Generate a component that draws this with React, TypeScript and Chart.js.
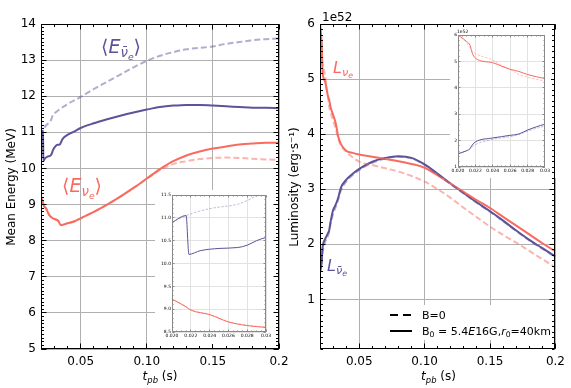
import React, { useEffect, useRef } from "react";
import { Chart, registerables } from "chart.js";
Chart.register(...registerables);

const FONT = "'DejaVu Sans', sans-serif";
const RED = "#f96a5f";
const RED_L = "rgba(249,106,95,0.5)";
const PUR = "#5d5399";
const PUR_L = "rgba(93,83,153,0.48)";

// ---------- Data: mean energies (MeV) ----------
const T_EBAR_B = [0.02, 0.0215, 0.0218, 0.023, 0.025, 0.027, 0.028, 0.029, 0.03, 0.032, 0.034, 0.0364, 0.04, 0.045, 0.05, 0.06, 0.07, 0.08, 0.09, 0.10, 0.11, 0.12, 0.13, 0.14, 0.15, 0.16, 0.17, 0.18, 0.19, 0.2];
const E_EBAR_B = [10.9, 11.05, 10.2, 10.28, 10.33, 10.35, 10.4, 10.5, 10.57, 10.65, 10.66, 10.82, 10.93, 11.02, 11.12, 11.25, 11.36, 11.46, 11.55, 11.63, 11.7, 11.74, 11.76, 11.76, 11.74, 11.72, 11.7, 11.68, 11.68, 11.67];
const T_EBAR_0 = [0.02, 0.0215, 0.024, 0.027, 0.028, 0.029, 0.03, 0.035, 0.04, 0.05, 0.06, 0.07, 0.08, 0.09, 0.10, 0.11, 0.12, 0.13, 0.14, 0.15, 0.16, 0.17, 0.18, 0.19, 0.2];
const E_EBAR_0 = [10.9, 11.05, 11.2, 11.3, 11.38, 11.48, 11.52, 11.66, 11.78, 11.98, 12.2, 12.4, 12.6, 12.8, 12.98, 13.12, 13.22, 13.3, 13.34, 13.38, 13.45, 13.5, 13.55, 13.58, 13.6];
const T_E = [0.02, 0.0215, 0.022, 0.024, 0.026, 0.028, 0.03, 0.033, 0.035, 0.04, 0.045, 0.05, 0.06, 0.07, 0.08, 0.09, 0.10, 0.11, 0.12, 0.13, 0.14, 0.15, 0.16, 0.17, 0.18, 0.19, 0.2];
const E_E_B = [9.22, 9.05, 8.98, 8.88, 8.72, 8.64, 8.6, 8.55, 8.43, 8.48, 8.53, 8.62, 8.8, 9.0, 9.22, 9.46, 9.72, 9.98, 10.2, 10.36, 10.47, 10.55, 10.61, 10.66, 10.69, 10.71, 10.71];
const E_E_0 = [9.22, 9.06, 8.99, 8.89, 8.73, 8.65, 8.61, 8.55, 8.44, 8.48, 8.53, 8.62, 8.8, 9.0, 9.22, 9.46, 9.71, 9.95, 10.12, 10.2, 10.26, 10.29, 10.3, 10.29, 10.27, 10.25, 10.24];

// ---------- Data: luminosities (1e52 erg/s) ----------
const T_L = [0.02, 0.021, 0.0214, 0.0216, 0.022, 0.024, 0.025, 0.026, 0.027, 0.028, 0.03, 0.032, 0.034, 0.036, 0.04, 0.045, 0.05, 0.06, 0.07, 0.08, 0.09, 0.10, 0.11, 0.12, 0.13, 0.14, 0.15, 0.16, 0.17, 0.18, 0.19, 0.2];
const L_E_B = [6.0, 5.75, 5.6, 5.35, 5.12, 4.95, 4.82, 4.7, 4.62, 4.5, 4.35, 4.2, 3.95, 3.82, 3.7, 3.66, 3.63, 3.59, 3.55, 3.51, 3.46, 3.39, 3.25, 3.1, 2.95, 2.8, 2.66, 2.5, 2.34, 2.18, 2.02, 1.87];
const L_E_0 = [6.0, 5.7, 5.5, 5.4, 5.3, 5.05, 4.85, 4.7, 4.5, 4.4, 4.25, 4.1, 3.92, 3.8, 3.68, 3.58, 3.5, 3.44, 3.38, 3.32, 3.24, 3.14, 3.0, 2.84, 2.66, 2.49, 2.32, 2.17, 2.03, 1.88, 1.73, 1.58];
const L_EBAR_B = [1.5, 1.62, 1.7, 1.82, 1.95, 2.1, 2.15, 2.2, 2.25, 2.4, 2.62, 2.72, 2.85, 3.03, 3.17, 3.28, 3.37, 3.5, 3.57, 3.6, 3.57, 3.45, 3.28, 3.1, 2.93, 2.76, 2.6, 2.43, 2.25, 2.08, 1.93, 1.78];
const L_EBAR_0 = [1.5, 1.62, 1.7, 1.76, 1.85, 2.05, 2.1, 2.15, 2.23, 2.36, 2.55, 2.68, 2.82, 2.98, 3.14, 3.26, 3.35, 3.48, 3.56, 3.59, 3.56, 3.44, 3.27, 3.09, 2.92, 2.75, 2.59, 2.42, 2.24, 2.07, 1.92, 1.77];

// ---------- Tick labels ----------
const X_TICKS = [0.05, 0.1, 0.15, 0.2];
const E_TICKS = [5, 6, 7, 8, 9, 10, 11, 12, 13, 14];
const L_TICKS = [1, 2, 3, 4, 5, 6];
const XI_TICKS = [0.02, 0.022, 0.024, 0.026, 0.028, 0.03];
const EI_TICKS = [8.5, 9, 9.5, 10, 10.5, 11, 11.5];
const LI_TICKS = [1, 2, 3, 4, 5, 6];

type Series = { t: number[]; v: number[]; color: string; dashed: boolean };
type Cfg = {
  w: number; h: number; padTop: number; padRight: number; yAxisW: number; xAxisH: number;
  xMin: number; xMax: number; xTicks: number[]; xFmt: (v: number) => string; xMinor: number;
  yMin: number; yMax: number; yTicks: number[]; yFmt: (v: number) => string; yMinor: number;
  fontSize: number; xPad: number; yPad: number;
  gridColor: string; frameColor: string; majorLen: number; minorLen: number;
  bg?: string; masks?: number[][];
  lw: number; dlw: number; dash: number[];
  series: Series[];
};

function steps(a: number, b: number, s: number) {
  const out: number[] = [];
  const n = Math.round((b - a) / s);
  for (let i = 0; i <= n; i++) out.push(a + i * s);
  return out;
}

function buildChart(canvas: HTMLCanvasElement, c: Cfg) {
  const framePlugin = {
    id: "frame",
    beforeDraw(chart: any) {
      if (!c.bg) return;
      const ctx = chart.ctx;
      ctx.save();
      ctx.fillStyle = c.bg;
      ctx.fillRect(0, 0, chart.width, chart.height);
      ctx.restore();
    },
    beforeDatasetsDraw(chart: any) {
      if (!c.masks) return;
      const ctx = chart.ctx;
      ctx.save();
      ctx.fillStyle = "#fff";
      for (const m of c.masks) ctx.fillRect(m[0], m[1], m[2] - m[0], m[3] - m[1]);
      ctx.restore();
    },
    afterDraw(chart: any) {
      const ctx = chart.ctx;
      const a = chart.chartArea;
      const xs = chart.scales.x;
      const ys = chart.scales.y;
      const L = Math.round(a.left) + 0.5;
      const R = Math.round(a.right) - 0.5;
      const T = Math.round(a.top) + 0.5;
      const B = Math.round(a.bottom) - 0.5;
      ctx.save();
      ctx.strokeStyle = c.frameColor;
      ctx.lineWidth = 1;
      ctx.beginPath();
      const xMaj = c.xTicks;
      const xMin = steps(c.xMin, c.xMax, c.xMinor);
      const yMaj = c.yTicks;
      const yMin = steps(Math.ceil(c.yMin / c.yMinor - 1e-6) * c.yMinor, c.yMax, c.yMinor);
      const xt = (v: number, len: number) => {
        const p = Math.floor(xs.getPixelForValue(v)) + 0.5;
        if (p < L - 1 || p > R + 1) return;
        ctx.moveTo(p, B); ctx.lineTo(p, B - len);
        ctx.moveTo(p, T); ctx.lineTo(p, T + len);
      };
      const yt = (v: number, len: number) => {
        const p = Math.floor(ys.getPixelForValue(v)) + 0.5;
        if (p < T - 1 || p > B + 1) return;
        ctx.moveTo(L, p); ctx.lineTo(L + len, p);
        ctx.moveTo(R, p); ctx.lineTo(R - len, p);
      };
      xMin.forEach((v) => xt(v, c.minorLen));
      xMaj.forEach((v) => xt(v, c.majorLen));
      yMin.forEach((v) => yt(v, c.minorLen));
      yMaj.forEach((v) => yt(v, c.majorLen));
      ctx.stroke();
      ctx.strokeRect(L, T, R - L, B - T);
      ctx.restore();
    },
  };

  return new Chart(canvas, {
    type: "line",
    data: {
      datasets: c.series.map((s) => ({
        data: s.t.map((x, i) => ({ x, y: s.v[i] })),
        borderColor: s.color,
        borderWidth: s.dashed ? c.dlw : c.lw,
        borderDash: s.dashed ? c.dash : [],
        pointRadius: 0,
        fill: false,
        tension: 0.3,
        cubicInterpolationMode: "monotone",
      })),
    } as any,
    options: {
      responsive: false,
      animation: false,
      devicePixelRatio: 1,
      events: [],
      layout: { padding: { top: c.padTop, right: c.padRight, left: 0, bottom: 0 } },
      plugins: { legend: { display: false }, tooltip: { enabled: false } },
      scales: {
        x: {
          type: "linear",
          min: c.xMin,
          max: c.xMax,
          afterBuildTicks: (s: any) => { s.ticks = c.xTicks.map((v) => ({ value: v })); },
          afterFit: (s: any) => { s.height = c.xAxisH; },
          ticks: {
            callback: (v: any) => c.xFmt(Number(v)),
            font: { family: FONT, size: c.fontSize },
            color: "#000",
            padding: c.xPad,
            maxRotation: 0,
            minRotation: 0,
            autoSkip: false,
          },
          grid: { color: c.gridColor, lineWidth: 1, drawTicks: false },
          border: { display: false },
        },
        y: {
          type: "linear",
          min: c.yMin,
          max: c.yMax,
          afterBuildTicks: (s: any) => { s.ticks = c.yTicks.map((v) => ({ value: v })); },
          afterFit: (s: any) => { s.width = c.yAxisW; },
          ticks: {
            callback: (v: any) => c.yFmt(Number(v)),
            font: { family: FONT, size: c.fontSize },
            color: "#000",
            padding: c.yPad,
            autoSkip: false,
          },
          grid: { color: c.gridColor, lineWidth: 1, drawTicks: false },
          border: { display: false },
        },
      },
    } as any,
    plugins: [framePlugin as any],
  });
}

function Panel({ cfg, left, top }: { cfg: Cfg; left: number; top: number }) {
  const ref = useRef<HTMLCanvasElement>(null);
  useEffect(() => {
    const ch = buildChart(ref.current as HTMLCanvasElement, cfg);
    return () => ch.destroy();
  }, []);
  return (
    <canvas
      ref={ref}
      width={cfg.w}
      height={cfg.h}
      style={{ position: "absolute", left, top, width: cfg.w, height: cfg.h }}
    />
  );
}

const mainX = (v: number) => (Math.abs(v - 0.2) < 1e-9 ? "0.2" : v.toFixed(2));
const insetX = (v: number) => (Math.abs(v - 0.03) < 1e-9 ? "0.03" : v.toFixed(3));

const energySeries: Series[] = [
  { t: T_EBAR_0, v: E_EBAR_0, color: PUR_L, dashed: true },
  { t: T_E, v: E_E_0, color: RED_L, dashed: true },
  { t: T_E, v: E_E_B, color: RED, dashed: false },
  { t: T_EBAR_B, v: E_EBAR_B, color: PUR, dashed: false },
];
const lumSeries: Series[] = [
  { t: T_L, v: L_EBAR_0, color: PUR_L, dashed: true },
  { t: T_L, v: L_E_0, color: RED_L, dashed: true },
  { t: T_L, v: L_E_B, color: RED, dashed: false },
  { t: T_L, v: L_EBAR_B, color: PUR, dashed: false },
];

const mainCommon = {
  h: 388, padTop: 24, xAxisH: 39, xMin: 0.02, xMax: 0.2, xTicks: X_TICKS, xFmt: mainX, xMinor: 0.01,
  yMinor: 0.1, fontSize: 12, xPad: 6, yPad: 5, gridColor: "#b0b0b0", frameColor: "#000",
  majorLen: 5, minorLen: 2.5, lw: 2, dlw: 2, dash: [6, 3],
};
const insetCommon = {
  xMin: 0.02, xMax: 0.03, xTicks: XI_TICKS, xFmt: insetX, xMinor: 0.0005,
  fontSize: 4.5, xPad: 1, yPad: 1, gridColor: "#e2e2e2", frameColor: "#888",
  majorLen: 2, minorLen: 1, lw: 1, dlw: 0.8, dash: [2.5, 1.5], bg: "#fff",
};

const leftMain: Cfg = {
  ...mainCommon, w: 300, padRight: 21, yAxisW: 41,
  yMin: 5, yMax: 14, yTicks: E_TICKS, yFmt: (v) => String(v),
  masks: [[155, 190, 279, 344]], series: energySeries,
};
const rightMain: Cfg = {
  ...mainCommon, w: 286, padRight: 14, yAxisW: 35,
  yMin: 0.1, yMax: 6, yTicks: L_TICKS, yFmt: (v) => String(v),
  masks: [[165, 27, 272, 178], [98, 305, 268, 340]], series: lumSeries,
};
const leftInset: Cfg = {
  ...insetCommon, w: 118, h: 154, padTop: 5, padRight: 7, yAxisW: 17, xAxisH: 12,
  yMin: 8.5, yMax: 11.5, yTicks: EI_TICKS, yFmt: (v) => v.toFixed(1), yMinor: 0.1,
  series: energySeries,
};
const rightInset: Cfg = {
  ...insetCommon, w: 101, h: 151, padTop: 8, padRight: 3, yAxisW: 8, xAxisH: 11,
  yMin: 1, yMax: 6, yTicks: LI_TICKS, yFmt: (v) => String(v), yMinor: 0.2,
  series: lumSeries,
};

const Sub = ({ children }: { children: any }) => (
  <span style={{ fontSize: "0.7em", verticalAlign: "-0.3em", fontStyle: "italic" }}>{children}</span>
);

const abs = (left: number, top: number, extra: any = {}) => ({
  position: "absolute" as const, left, top, lineHeight: 1, whiteSpace: "nowrap" as const, ...extra,
});

export default function App() {
  return (
    <div
      style={{
        position: "absolute", left: 0, top: 0, width: 571, height: 388,
        background: "#fff", overflow: "hidden", fontFamily: FONT, color: "#000",
      }}
    >
      <Panel cfg={leftMain} left={0} top={0} />
      <Panel cfg={rightMain} left={285} top={0} />
      <Panel cfg={leftInset} left={155} top={190} />
      <Panel cfg={rightInset} left={450} top={27} />

      {/* curve labels */}
      <div style={abs(101, 37, { fontSize: 19, color: PUR })}>
        ⟨<i>E</i><Sub>ν̄<Sub>e</Sub></Sub>⟩
      </div>
      <div style={abs(62, 176, { fontSize: 19, color: RED })}>
        ⟨<i>E</i><Sub>ν<Sub>e</Sub></Sub>⟩
      </div>
      <div style={abs(333, 60, { fontSize: 16, color: RED })}>
        <i>L</i><Sub>ν<Sub>e</Sub></Sub>
      </div>
      <div style={abs(327, 258, { fontSize: 16, color: PUR })}>
        <i>L</i><Sub>ν̄<Sub>e</Sub></Sub>
      </div>

      {/* offset labels */}
      <div style={abs(322, 11, { fontSize: 12 })}>1e52</div>
      <div style={abs(457, 30, { fontSize: 4.5 })}>1e52</div>

      {/* axis titles */}
      <div style={abs(160, 377, { fontSize: 12, transform: "translate(-50%,-50%)" })}>
        <i>t</i><Sub>pb</Sub> (s)
      </div>
      <div style={abs(438.5, 377, { fontSize: 12, transform: "translate(-50%,-50%)" })}>
        <i>t</i><Sub>pb</Sub> (s)
      </div>
      <div style={abs(10.5, 186.5, { fontSize: 12, transform: "translate(-50%,-50%) rotate(-90deg)" })}>
        Mean Energy (MeV)
      </div>
      <div style={abs(294, 186.5, { fontSize: 12, transform: "translate(-50%,-50%) rotate(-90deg)" })}>
        Luminosity (erg·s⁻¹)
      </div>

      {/* legend */}
      <div style={abs(390, 314, { width: 22, height: 2, background: "repeating-linear-gradient(to right, #000 0 8px, transparent 8px 13px)" })} />
      <div style={abs(422, 309.5, { fontSize: 11 })}>B=0</div>
      <div style={abs(390, 330, { width: 22, height: 2, background: "#000" })} />
      <div style={abs(422, 325.5, { fontSize: 11 })}>
        B<span style={{ fontSize: "0.7em", verticalAlign: "-0.3em" }}>0</span> = 5.4<i>E</i>16G,<i>r</i>
        <span style={{ fontSize: "0.7em", verticalAlign: "-0.3em" }}>0</span>=40km
      </div>
    </div>
  );
}
